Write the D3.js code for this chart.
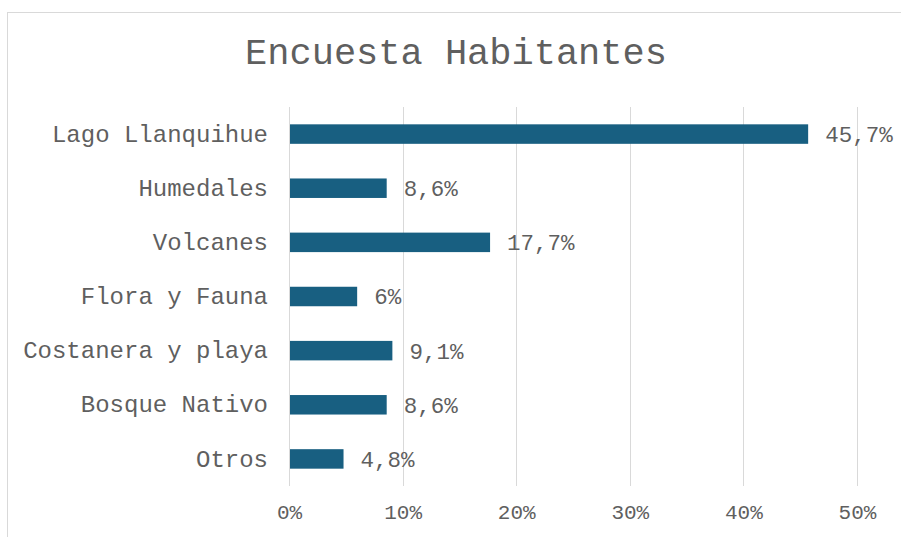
<!DOCTYPE html>
<html><head><meta charset="utf-8">
<script src="https://cdn.jsdelivr.net/npm/d3@7"></script>
<style>body{margin:0;background:#fff}svg{display:block}text{font-family:"Liberation Mono","Courier New",monospace}</style>
</head><body>
<svg id="c" width="901" height="537"></svg>
<script>
const categories = ["Lago Llanquihue","Humedales","Volcanes","Flora y Fauna","Costanera y playa","Bosque Nativo","Otros"];
const values = [45.7, 8.6, 17.7, 6, 9.1, 8.6, 4.8];
const valueLabels = ["45,7%","8,6%","17,7%","6%","9,1%","8,6%","4,8%"];
const ticks = [0,10,20,30,40,50];
const title = "Encuesta Habitantes";

const svg = d3.select("#c");
svg.append("rect").attr("x",7.5).attr("y",12.5).attr("width",1000).attr("height",1000)
  .attr("fill","#fff").attr("stroke","#d9d9d9").attr("stroke-width",1);

const x = d3.scaleLinear().domain([0,50]).range([289,857]);
const y = d3.scaleBand().domain(categories).range([107,486]).paddingInner(0.64).paddingOuter(0.32);

svg.append("text").attr("x",456).attr("y",64).attr("text-anchor","middle")
  .attr("font-size",37).attr("fill","#5f5f5f").text(title);

const grid = svg.append("g");
grid.selectAll("line").data(ticks).join("line")
  .attr("x1",d=>Math.round(x(d))+0.5).attr("x2",d=>Math.round(x(d))+0.5)
  .attr("y1",107).attr("y2",486).attr("stroke","#d9d9d9").attr("stroke-width",1);

const xAxis = svg.append("g").attr("transform","translate(0,486)")
  .call(d3.axisBottom(x).tickValues(ticks).tickSize(0).tickPadding(18).tickFormat(d=>d+"%"));
xAxis.select(".domain").remove();
xAxis.selectAll("text").attr("font-size",21).attr("fill","#5f5f5f").attr("font-family","'Liberation Mono',monospace");

svg.append("g").selectAll("rect").data(values).join("rect")
  .attr("x",x(0)+1).attr("y",(d,i)=>y(categories[i]))
  .attr("width",d=>x(d)-x(0)-1).attr("height",y.bandwidth())
  .attr("fill","#185f81");

const yAxis = svg.append("g").attr("transform","translate(289,0)")
  .call(d3.axisLeft(y).tickSize(0).tickPadding(21));
yAxis.select(".domain").remove();
yAxis.selectAll("text").attr("font-size",24).attr("fill","#5f5f5f").attr("font-family","'Liberation Mono',monospace");

svg.append("g").selectAll("text").data(values).join("text")
  .attr("x",d=>x(d)+17).attr("y",(d,i)=>y(categories[i])+y.bandwidth()/2)
  .attr("dy","0.35em").attr("font-size",22.5).attr("fill","#5f5f5f")
  .text((d,i)=>valueLabels[i]);
</script>
</body></html>
